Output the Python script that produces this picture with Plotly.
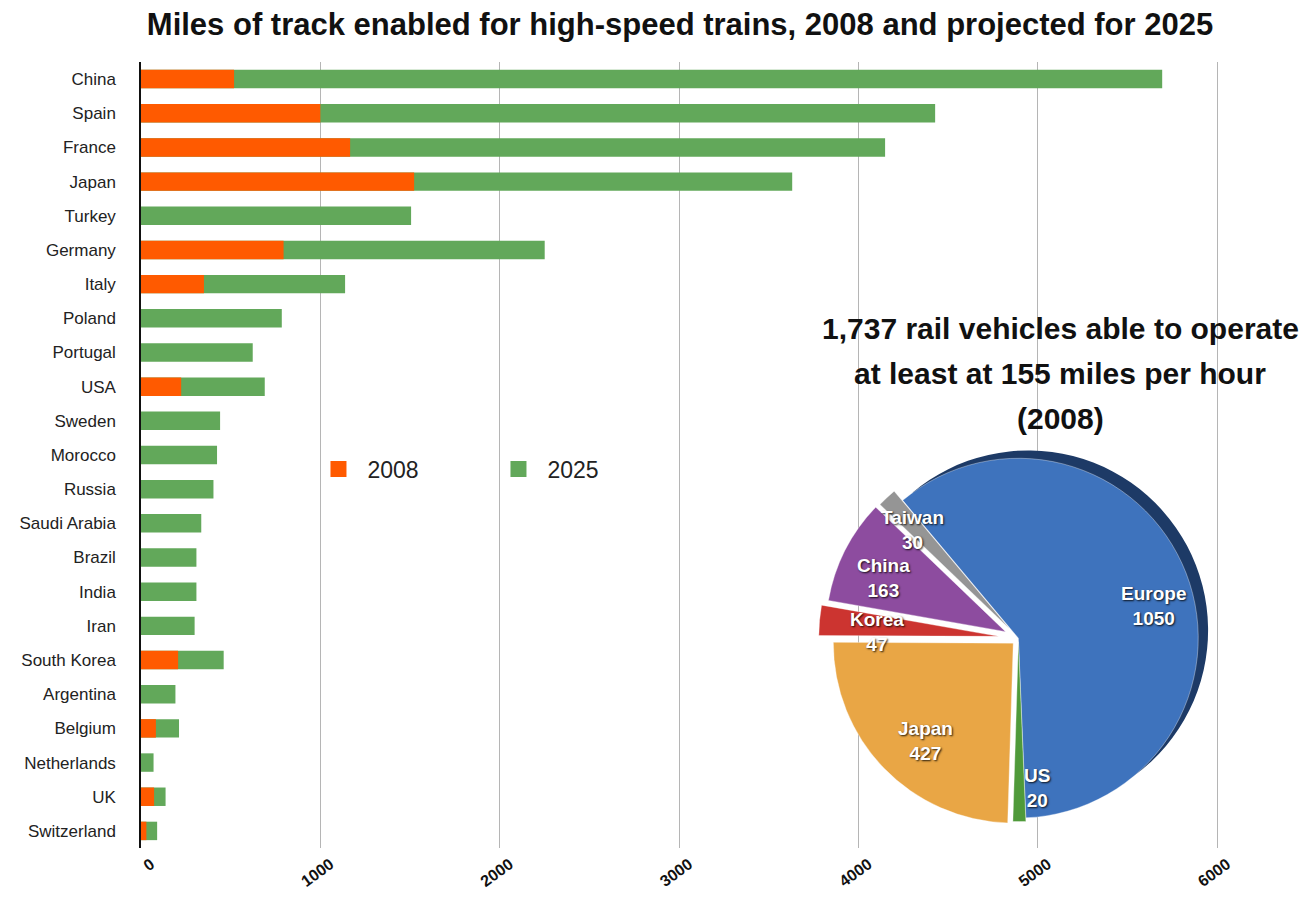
import plotly.graph_objects as go

countries = ["China", "Spain", "France", "Japan", "Turkey", "Germany", "Italy", "Poland",
             "Portugal", "USA", "Sweden", "Morocco", "Russia", "Saudi Arabia", "Brazil",
             "India", "Iran", "South Korea", "Argentina", "Belgium", "Netherlands", "UK",
             "Switzerland"]
miles_2008 = [519, 1000, 1166, 1523, 0, 795, 351, 0, 0, 224, 0, 0, 0, 0, 0, 0, 0,
              207, 0, 83, 0, 73, 30]
miles_2025 = [5694, 4428, 4149, 3631, 1506, 2251, 1138, 785, 623, 690, 441, 424, 404,
              336, 309, 309, 299, 461, 192, 212, 70, 137, 90]
x_ticks = [0, 1000, 2000, 3000, 4000, 5000, 6000]
series_names = ["2008", "2025"]
series_colors = ["#ff5a00", "#62a85a"]

pie_labels = ["Europe", "US", "Japan", "Korea", "China", "Taiwan"]
pie_values = [1050, 20, 427, 47, 163, 30]
pie_colors = ["#3e73bd", "#4f9a3a", "#e9a645", "#cc3430", "#8d4c9f", "#959595"]
pie_pull = [0, 0.02, 0.04, 0.11, 0.08, 0.07]
pie_title_lines = ["1,737 rail vehicles able to operate",
                   "at least at 155 miles per hour",
                   "(2008)"]

FONT = "Liberation Sans, Arial, sans-serif"
SHADOW = "1px 1px 2px rgba(0,0,0,0.85)"

# page body has an 8px offset; work in screen pixels and convert
OFF = 8
W, H = 1316, 897
PL, PR, PT, PB = 141, 1235, 62, 848          # plot area in screen pixels
ml, mt = PL - OFF, PT - OFF
mr, mb = W - (PR - OFF), H - (PB - OFF)


def px_to_paper(x, y):
    return (x - PL) / (PR - PL), (PB - y) / (PB - PT)


fig = go.Figure()
fig.add_trace(go.Bar(
    y=countries, x=miles_2025, orientation="h", name=series_names[1],
    marker=dict(color=series_colors[1], line=dict(width=0)), showlegend=False,
))
fig.add_trace(go.Bar(
    y=countries, x=miles_2008, orientation="h", name=series_names[0],
    marker=dict(color=series_colors[0], line=dict(width=0)), showlegend=False,
))
# legend entries with larger square swatches
for name, col in zip(series_names, series_colors):
    fig.add_trace(go.Scatter(
        x=[None], y=[None], mode="markers", name=name,
        marker=dict(symbol="square", size=22, color=col), hoverinfo="skip",
    ))

main_dom = dict(x=[0.619, 0.985], y=[0.013, 0.521])
shadow_dom = dict(x=[0.628, 0.994], y=[0.023, 0.531])
# dark rim behind Europe slice (3D look)
fig.add_trace(go.Pie(
    labels=pie_labels, values=pie_values, sort=False, direction="clockwise",
    rotation=-40, pull=pie_pull, showlegend=False, hoverinfo="skip",
    marker=dict(colors=["#1d3a66"] + ["rgba(0,0,0,0)"] * 5, line=dict(width=0)),
    textinfo="none", domain=shadow_dom,
))
fig.add_trace(go.Pie(
    labels=pie_labels, values=pie_values, sort=False, direction="clockwise",
    rotation=-40, pull=pie_pull, showlegend=False,
    marker=dict(colors=pie_colors, line=dict(color="rgba(255,255,255,0.35)", width=1)),
    textinfo="none", domain=main_dom,
))

annotations = []
for i, line in enumerate(pie_title_lines):
    ax, ay = px_to_paper(1060, 328 + i * 45)
    annotations.append(dict(
        text="<b>" + line + "</b>", x=ax, y=ay, xref="paper", yref="paper",
        showarrow=False, font=dict(size=30, color="#111", family=FONT),
        xanchor="center", yanchor="middle",
    ))
# slice labels, placed as in the original
label_pos = {"Europe": (1153, 606), "US": (1037, 788), "Japan": (925, 741),
             "Korea": (877, 632), "China": (883, 578), "Taiwan": (912, 530)}
for lab, val in zip(pie_labels, pie_values):
    ax, ay = px_to_paper(*label_pos[lab])
    annotations.append(dict(
        text="<b>%s<br>%d</b>" % (lab, val), x=ax, y=ay, xref="paper", yref="paper",
        showarrow=False, font=dict(size=19, color="white", family=FONT, shadow=SHADOW),
        xanchor="center", yanchor="middle", align="center",
    ))

fig.update_layout(
    width=W, height=H,
    barmode="overlay", bargap=0.46,
    paper_bgcolor="white", plot_bgcolor="white",
    margin=dict(l=ml, r=mr, t=mt, b=mb, autoexpand=False),
    font=dict(family=FONT, color="#222"),
    title=dict(text="<b>Miles of track enabled for high-speed trains, 2008 and projected for 2025</b>",
               x=(680 - OFF) / W, xanchor="center", y=1 - (24 - OFF) / H, yanchor="middle",
               font=dict(size=31, color="#111", family=FONT)),
    xaxis=dict(range=[0, 6100], tickvals=x_ticks, ticktext=["<b>%d</b>" % v for v in x_ticks],
               showgrid=True, gridcolor="#b5b5b5", gridwidth=1, zeroline=False,
               tickangle=-36, tickfont=dict(size=16, color="#111", family=FONT),
               ticklabelshift=10, ticklabelstandoff=3,
               showline=False, ticks="", automargin=False),
    yaxis=dict(categoryorder="array", categoryarray=countries, autorange="reversed",
               showline=True, linecolor="#111", linewidth=1.5, ticks="",
               tickfont=dict(size=17, color="#222", family=FONT), showgrid=False,
               ticklabelstandoff=20, automargin=False),
    legend=dict(orientation="h", x=0.154, y=px_to_paper(0, 469)[1], xanchor="left",
                yanchor="middle", font=dict(size=23, color="#222", family=FONT),
                itemwidth=48, entrywidth=117, itemsizing="trace",
                bgcolor="rgba(0,0,0,0)"),
    annotations=annotations,
)
fig.write_html("out.html")
